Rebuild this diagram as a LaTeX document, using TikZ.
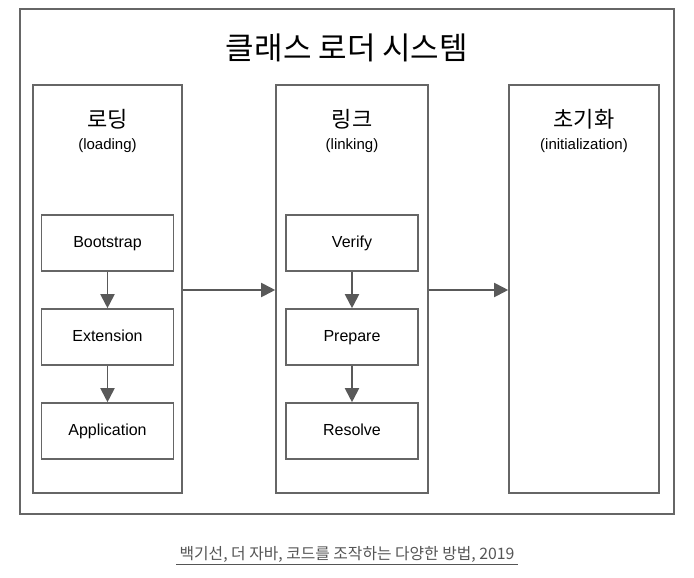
\documentclass[tikz,border=0pt]{standalone}
\usepackage{fontspec}
\setmainfont{Liberation Sans}
\newfontfamily\kr{Noto Sans CJK KR}
\usetikzlibrary{arrows.meta}
\definecolor{ln}{HTML}{666666}
\definecolor{ah}{HTML}{595959}
\definecolor{captxt}{HTML}{555555}
\tikzset{
  frame/.style={draw=ln, line width=1.6pt},
  stagebox/.style={draw=ln, line width=1.6pt},
  substep/.style={draw=ln, line width=1.6pt, minimum width=132pt, minimum height=56pt, font=\fontsize{16}{18}\selectfont, inner sep=0pt, text height=11.5pt, text depth=3.5pt},
  flow/.style={draw=ah, line width=1.9pt, -{Triangle[length=14pt,width=14pt]}},
}
\begin{document}
\begin{tikzpicture}[x=1pt,y=-1pt]
\useasboundingbox (0,0) rectangle (694,578);
\fill[white] (0,0) rectangle (694,578);
\draw[frame] (20,9) rectangle (674,514);
\node[font=\kr\fontsize{31}{34}\selectfont] (title) at (347,48) {클래스 로더 시스템};
% stages
\node[stagebox, minimum width=149pt, minimum height=408pt, inner sep=0pt] (load) at (107.5,289) {};
\node[stagebox, minimum width=152pt, minimum height=408pt, inner sep=0pt] (link) at (352,289) {};
\node[stagebox, minimum width=150pt, minimum height=408pt, inner sep=0pt] (init) at (584,289) {};
% headings
\node[font=\kr\fontsize{22}{24}\selectfont] (loadt) at (107.5,119) {로딩};
\node[font=\fontsize{15}{17}\selectfont] (loads) at (107.5,146) {(loading)};
\node[font=\kr\fontsize{22}{24}\selectfont] (linkt) at (352,119) {링크};
\node[font=\fontsize{15}{17}\selectfont] (links) at (352,146) {(linking)};
\node[font=\kr\fontsize{22}{24}\selectfont] (initt) at (584,119) {초기화};
\node[font=\fontsize{15}{17}\selectfont] (inits) at (584,146) {(initialization)};
% substeps
\node[substep] (boot) at (107.5,243) {Bootstrap};
\node[substep] (ext) at (107.5,337) {Extension};
\node[substep] (app) at (107.5,431) {Application};
\node[substep] (ver) at (352,243) {Verify};
\node[substep] (prep) at (352,337) {Prepare};
\node[substep] (res) at (352,431) {Resolve};
% arrows
\draw[flow] (boot) -- (ext);
\draw[flow] (ext) -- (app);
\draw[flow] (ver) -- (prep);
\draw[flow] (prep) -- (res);
\draw[flow] (load.east |- 0,290) -- (link.west |- 0,290);
\draw[flow] (link.east |- 0,290) -- (init.west |- 0,290);
% caption
\node[font=\kr\fontsize{15.8}{17}\selectfont, text=captxt] (caption) at (347,554) {백기선, 더 자바, 코드를 조작하는 다양한 방법, 2019};
\draw[draw=captxt, line width=0.9pt] (caption.south west |- 0,564) -- (caption.south east |- 0,564);
\end{tikzpicture}
\end{document}
